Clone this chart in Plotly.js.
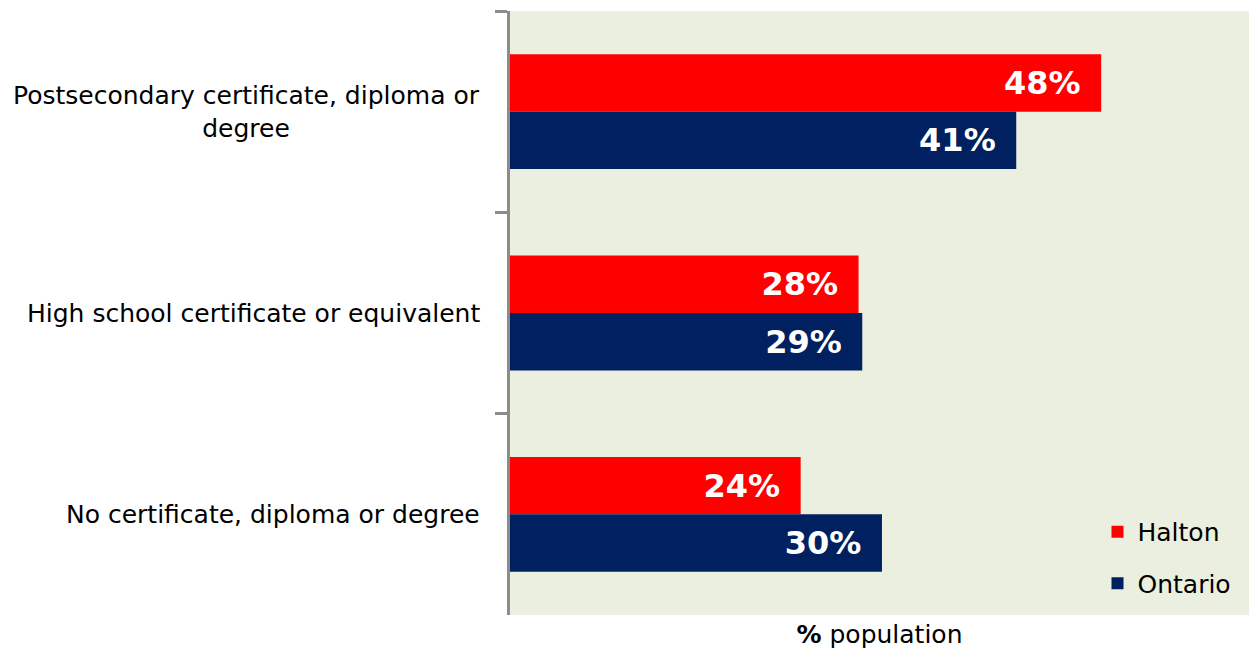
<!DOCTYPE html>
<html>
<head>
<meta charset="utf-8">
<script src="https://cdn.plot.ly/plotly-3.0.1.min.js"></script>
<style>html,body{margin:0;padding:0;background:#fff;}#chart{width:1251px;height:650px;}</style>
</head>
<body>
<div id="chart"></div>
<script>
const categories = ["Postsecondary certificate, diploma or degree", "High school certificate or equivalent", "No certificate, diploma or degree"];
const categoryLabels = ["Postsecondary certificate, diploma or<br>degree", "High school certificate or equivalent", "No certificate, diploma or degree"];
const haltonValues = [48.0, 28.3, 23.6];
const ontarioValues = [41.1, 28.6, 30.2];
const seriesNames = ["Halton", "Ontario"];
const xTitle = "<b>%</b> population";

const FONT = "DejaVu Sans, Verdana, sans-serif";
const textFont = {family: FONT, size: 32, color: "#ffffff", weight: 700};

const traces = [
  {type: "bar", orientation: "h", name: seriesNames[0], y: categories, x: haltonValues,
   marker: {color: "#ff0000"}, texttemplate: "<b>%{x:.0f}%</b>\u00a0\u2009", textposition: "inside",
   insidetextanchor: "end", textfont: textFont, constraintext: "none", legendgroup: "a", hoverinfo: "x"},
  {type: "bar", orientation: "h", name: seriesNames[1], y: categories, x: ontarioValues,
   marker: {color: "#002060"}, texttemplate: "<b>%{x:.0f}%</b>\u00a0\u2009", textposition: "inside",
   insidetextanchor: "end", textfont: textFont, constraintext: "none", legendgroup: "b", hoverinfo: "x"}
];

const annotations = categories.map((c, i) => ({
  xref: "paper", yref: "y", x: -0.038, y: c, xanchor: "right", yanchor: "middle",
  text: categoryLabels[i], showarrow: false, align: "center",
  font: {family: FONT, size: 25, color: "#000000"}
}));

const layout = {
  width: 1251, height: 650,
  margin: {l: 510, r: 2, t: 11, b: 35, pad: 0},
  paper_bgcolor: "#ffffff", plot_bgcolor: "#ebefdf",
  barmode: "group", bargap: 0.43, bargroupgap: 0,
  showlegend: true,
  legend: {x: 0.795, xanchor: "left", y: 0.015, yanchor: "bottom", bgcolor: "rgba(0,0,0,0)",
           font: {family: FONT, size: 25, color: "#000"}, tracegroupgap: 16, traceorder: "grouped"},
  xaxis: {range: [0, 60], showgrid: false, zeroline: false, showticklabels: false, ticks: "",
          title: {text: xTitle, standoff: 10, font: {family: FONT, size: 25, color: "#000"}}},
  yaxis: {type: "category", autorange: "reversed", showticklabels: false, showgrid: false,
          showline: true, linecolor: "#8c8c8c", linewidth: 3, ticks: "outside", tickson: "boundaries",
          ticklen: 12, tickwidth: 3, tickcolor: "#8c8c8c"},
  annotations: annotations
};

Plotly.newPlot("chart", traces, layout, {displayModeBar: false, staticPlot: true});
</script>
</body>
</html>
